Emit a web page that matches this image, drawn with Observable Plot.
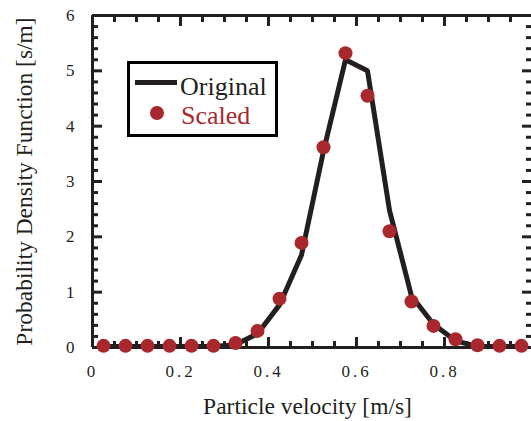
<!DOCTYPE html>
<html>
<head>
<meta charset="utf-8">
<script src="https://cdn.jsdelivr.net/npm/d3@7"></script>
<script src="https://cdn.jsdelivr.net/npm/@observablehq/plot@0.6"></script>
<style>
  html, body { margin: 0; padding: 0; background: #fff; overflow: hidden; }
  #wrap { position: relative; width: 531px; height: 421px; }
  [aria-label="x-axis tick label"] text { letter-spacing: 3px; }
  #legend { position: absolute; left: 127px; top: 61px; width: 151px; height: 76px;
            border: 3px solid #000; box-sizing: border-box; background: #fff;
            font-family: "Liberation Serif", "Times New Roman", serif; font-size: 26px; line-height: 26px; }
  #legend .ln { position: absolute; left: 5px; top: 16px; width: 42px; height: 5px; background: #231f20; }
  #legend .dot { position: absolute; left: 20px; top: 42px; width: 14px; height: 14px; border-radius: 50%; background: #a8282e; }
  #legend .t1 { position: absolute; left: 50px; top: 10px; color: #231f20; white-space: nowrap; }
  #legend .t2 { position: absolute; left: 51px; top: 39px; color: #a8282e; white-space: nowrap; }
</style>
</head>
<body>
<div id="wrap">
  <div id="chart"></div>
  <div id="legend">
    <span class="ln"></span><span class="t1">Original</span>
    <span class="dot"></span><span class="t2">Scaled</span>
  </div>
</div>
<script>
// Bin centres of particle velocity [m/s]
const velocity = [0.025, 0.075, 0.125, 0.175, 0.225, 0.275, 0.325, 0.375, 0.425, 0.475,
                  0.525, 0.575, 0.625, 0.675, 0.725, 0.775, 0.825, 0.875, 0.925, 0.975];
// PDF [s/m]
const original = [0.02, 0.02, 0.02, 0.02, 0.02, 0.02, 0.05, 0.25, 0.77, 1.67,
                  3.55, 5.2, 5.0, 2.48, 0.93, 0.42, 0.12, 0.02, 0.02, 0.02];
const scaled   = [0.03, 0.03, 0.03, 0.03, 0.03, 0.03, 0.08, 0.30, 0.88, 1.89,
                  3.62, 5.32, 4.55, 2.10, 0.83, 0.39, 0.15, 0.04, 0.03, 0.03];

const xMajor = [0, 0.2, 0.4, 0.6, 0.8, 1.0];
const xMinor = [0.05, 0.1, 0.15, 0.25, 0.3, 0.35, 0.45, 0.5, 0.55, 0.65, 0.7, 0.75, 0.85, 0.9, 0.95];
const xLabels = [0, 0.2, 0.4, 0.6, 0.8];
const yMajor = [0, 1, 2, 3, 4, 5, 6];
const yMinor = [0.2,0.4,0.6,0.8,1.2,1.4,1.6,1.8,2.2,2.4,2.6,2.8,3.2,3.4,3.6,3.8,4.2,4.4,4.6,4.8,5.2,5.4,5.6,5.8];

const xTitle = "Particle velocity [m/s]";
const yTitle = "Probability Density Function [s/m]";

const lineData = velocity.map((v, i) => ({v, p: original[i]}));
const dotData = velocity.map((v, i) => ({v, p: scaled[i]}));

const ink = "#231f20";
const red = "#a8282e";
const noLabel = () => "";

const tickOpts = {stroke: ink, strokeWidth: 3, label: null, tickFormat: noLabel};

const chart = Plot.plot({
  width: 531,
  height: 421,
  marginLeft: 92,
  marginRight: 0,
  marginTop: 15,
  marginBottom: 74,
  style: {fontFamily: "'Liberation Serif', 'Times New Roman', serif", color: ink, background: "#fff"},
  x: {domain: [0, 1], range: [92, 532], label: null},
  y: {domain: [0, 6], label: null},
  marks: [
    // frame (left, top, bottom)
    Plot.ruleX([0], {stroke: ink, strokeWidth: 3}),
    Plot.ruleY([0, 6], {stroke: ink, strokeWidth: 3}),
    // inward ticks
    Plot.axisX(xMajor, {...tickOpts, anchor: "bottom", tickSize: -10}),
    Plot.axisX(xMinor, {...tickOpts, anchor: "bottom", tickSize: -6}),
    Plot.axisX(xMajor, {...tickOpts, anchor: "top", tickSize: -10}),
    Plot.axisX(xMinor, {...tickOpts, anchor: "top", tickSize: -6}),
    Plot.axisY(yMajor, {...tickOpts, anchor: "left", tickSize: -10}),
    Plot.axisY(yMinor, {...tickOpts, anchor: "left", tickSize: -6}),
    Plot.axisY(yMajor, {...tickOpts, anchor: "right", tickSize: -10}),
    Plot.axisY(yMinor, {...tickOpts, anchor: "right", tickSize: -6}),
    // tick labels
    Plot.axisX(xLabels, {anchor: "bottom", tickSize: 0, tickPadding: 17, fontSize: 17, label: null,
      fill: ink, tickFormat: d => d === 0 ? "0" : d3.format(".1f")(d)}),
    Plot.axisY(yMajor, {anchor: "left", tickSize: 0, tickPadding: 18, fontSize: 17, label: null,
      fill: ink, tickFormat: d => String(d)}),
    // axis titles
    Plot.text([xTitle], {text: d => d, frameAnchor: "bottom", textAnchor: "middle", dy: 66, dx: -4.5, fontSize: 23.5, fill: ink}),
    Plot.text([yTitle], {text: d => d, frameAnchor: "left", textAnchor: "middle", dx: -68, rotate: -90, fontSize: 23.5, fill: ink}),
    // data
    Plot.line(lineData, {x: "v", y: "p", stroke: ink, strokeWidth: 5, strokeLinejoin: "miter", clip: false}),
    Plot.dot(dotData, {x: "v", y: "p", r: 7, fill: red, stroke: "none"})
  ]
});
document.getElementById("chart").appendChild(chart);
</script>
</body>
</html>
